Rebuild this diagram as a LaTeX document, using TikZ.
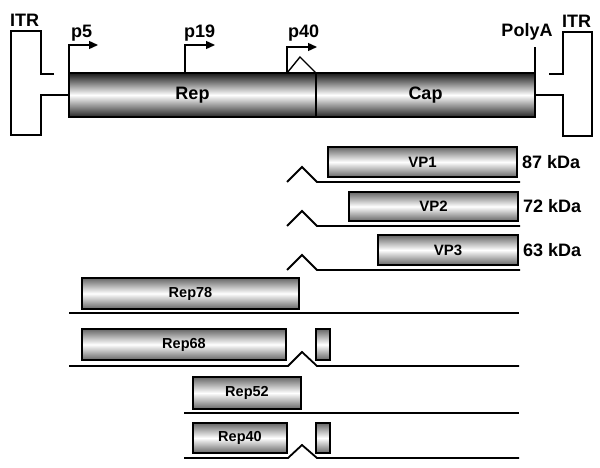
\documentclass[tikz,border=0pt]{standalone}
\usepackage{fontspec}
\setmainfont{Liberation Sans}
\usetikzlibrary{arrows.meta}
\tikzset{
  bar/.style={draw, line width=1.7pt, inner sep=0pt, outer sep=0pt, anchor=north west,
    top color=black!60, bottom color=black!60, middle color=white},
  mainbar/.style={bar, line width=2.4pt, top color=black!90, bottom color=black!85,
    middle color=white, font=\bfseries\fontsize{18}{18}\selectfont},
  vpbar/.style={bar, font=\bfseries\fontsize{15}{15}\selectfont},
  repbar/.style={bar, font=\bfseries\fontsize{14.5}{14.5}\selectfont},
  lbl/.style={inner sep=0pt, font=\bfseries\fontsize{18}{18}\selectfont},
  prom/.style={line width=1.4pt, -{Triangle[length=9pt,width=8pt]}},
  rna/.style={line width=1.8pt},
}
\begin{document}
\begin{tikzpicture}[x=1pt,y=-1pt]
  \useasboundingbox (0,0) rectangle (600,468);
  % genome
  \node[mainbar, minimum width=247, minimum height=44] (rep) at (69,73) {Rep};
  \node[mainbar, minimum width=219, minimum height=44] (cap) at (316,73) {Cap};
  % ITRs
  \draw[line width=1.4pt] (54,74) -| (41,31) -| (11,135) -| (41,95) -- (rep.west);
  \draw[line width=1.4pt] (549,74) -| (563,32) -| (592,136) -| (563,95) -- (cap.east);
  \node[lbl, anchor=base west] (itrL) at (10,27) {ITR};
  \node[lbl, anchor=base west] (itrR) at (562,28) {ITR};
  % promoters and polyA
  \coordinate (p5) at (rep.north west);
  \coordinate (p19) at (185,73);
  \coordinate (p40) at (287,73);
  \draw[prom] (p5) |- (98,45);
  \draw[prom] (p19) |- (215,45);
  \draw[prom] (p40) |- (317,47);
  \draw[line width=1.4pt] (p40) -- (300,57) -- (rep.north east);
  \node[lbl, anchor=base west] at (71,38) {p5};
  \node[lbl, anchor=base west] at (184,38) {p19};
  \node[lbl, anchor=base west] at (288,38) {p40};
  \draw[line width=1.4pt] (cap.north east) -- ++(0,-26) coordinate (pA);
  \node[lbl, anchor=base] (polyA) at (527,37) {PolyA};
  % capsid proteins
  \node[vpbar, minimum width=189, minimum height=30] (vp1) at (328,147) {VP1};
  \node[vpbar, minimum width=169, minimum height=29] (vp2) at (349,192) {VP2};
  \node[vpbar, minimum width=140, minimum height=30] (vp3) at (378,235) {VP3};
  \node[lbl, anchor=west] at ([xshift=5]vp1.east) {87 kDa};
  \node[lbl, anchor=west] at ([xshift=5]vp2.east) {72 kDa};
  \node[lbl, anchor=west] at ([xshift=5]vp3.east) {63 kDa};
  \draw[rna] (287,182) -- (302,167) -- (317,182) -- (520,182);
  \draw[rna] (287,226) -- (302,211) -- (317,226) -- (520,226);
  \draw[rna] (287,270) -- (302,255) -- (317,270) -- (520,270);
  % rep proteins
  \node[repbar, minimum width=217, minimum height=31] (rep78) at (82,278) {Rep78};
  \node[repbar, minimum width=204, minimum height=31] (rep68) at (82,329) {Rep68};
  \node[repbar, minimum width=14, minimum height=31] (rep68b) at (316,329) {};
  \node[repbar, minimum width=108, minimum height=32] (rep52) at (193,377) {Rep52};
  \node[repbar, minimum width=94, minimum height=30] (rep40) at (193,423) {Rep40};
  \node[repbar, minimum width=14, minimum height=30] (rep40b) at (316,423) {};
  \draw[rna] (69,313) -- (519,313);
  \draw[rna] (69,366) -- (288,366) -- (302,352) -- (317,366) -- (519,366);
  \draw[rna] (184,413) -- (519,413);
  \draw[rna] (184,458) -- (288,458) -- (302,445) -- (317,458) -- (519,458);
\end{tikzpicture}
\end{document}
